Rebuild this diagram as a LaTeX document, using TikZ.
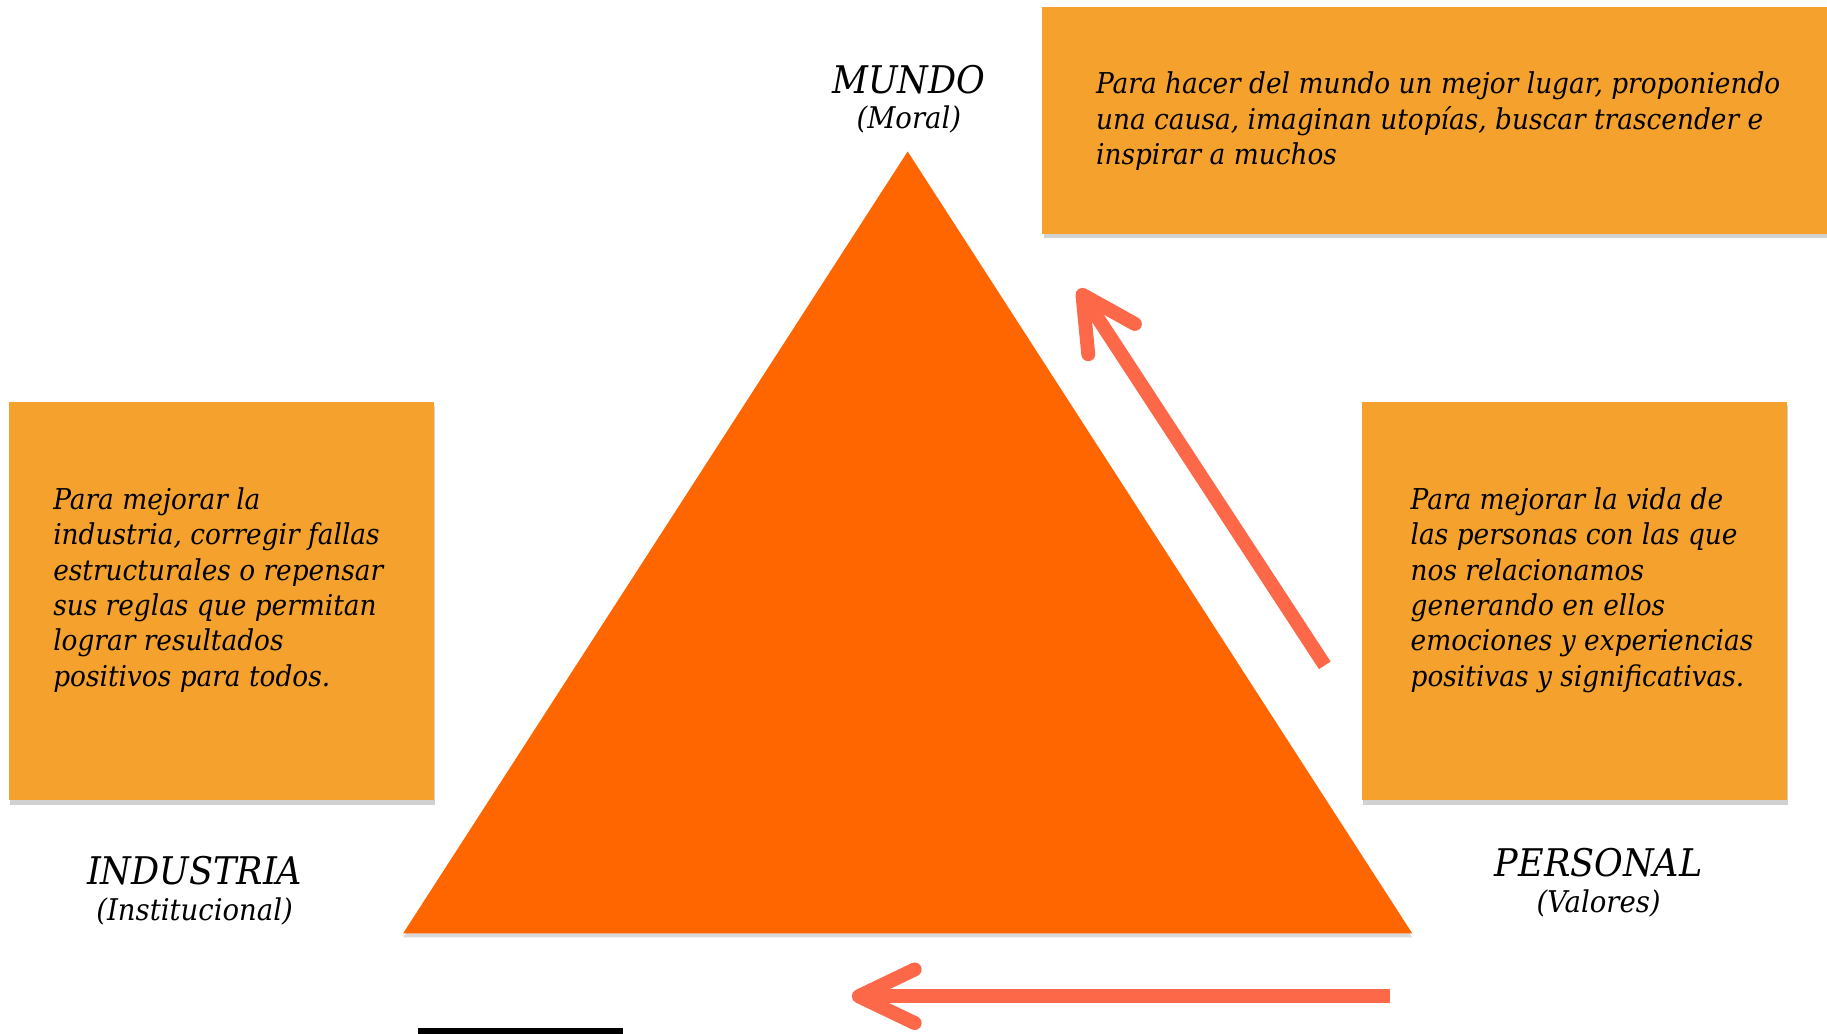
\documentclass[tikz,border=0pt]{standalone}
\usepackage{fontspec}
\setmainfont{DejaVu Serif}[FakeStretch=0.92]
\usetikzlibrary{shadows}
\definecolor{boxorange}{RGB}{244,161,46}
\definecolor{triorange}{RGB}{255,102,0}
\definecolor{arrowred}{RGB}{252,104,72}
\tikzset{
  infobox/.style={fill=boxorange, draw=none, inner sep=0pt, anchor=north west,
    drop shadow={shadow xshift=0.3pt, shadow yshift=-1.1pt, fill=black, opacity=0.18}},
  bodytext/.style={inner sep=0pt, anchor=north west, align=left,
    font=\fontsize{7}{8.62}\selectfont\itshape},
  biglabel/.style={inner sep=0pt, anchor=base, font=\fontsize{9.3}{11}\selectfont\itshape},
  smalllabel/.style={inner sep=0pt, anchor=base, font=\fontsize{7.3}{9}\selectfont\itshape},
  shaft/.style={draw=arrowred, line width=3.4pt, line cap=butt},
  barb/.style={draw=arrowred, line width=3.4pt, line cap=round, line join=round},
}
\begin{document}
\begin{tikzpicture}[x=0.01cm,y=-0.01cm]
\useasboundingbox (0,0) rectangle (1568,887);
% boxes
\node[infobox, minimum width=674*0.01cm, minimum height=195*0.01cm] (boxTop) at (894,5) {};
\node[infobox, minimum width=365*0.01cm, minimum height=342*0.01cm] (boxLeft) at (7,344) {};
\node[infobox, minimum width=365*0.01cm, minimum height=342*0.01cm] (boxRight) at (1168,344) {};
% triangle
\coordinate (apex) at (779,130);
\coordinate (bl) at (346,801);
\coordinate (br) at (1212,801);
\fill[triorange, drop shadow={shadow xshift=0pt, shadow yshift=-1pt, fill=black, opacity=0.15}] (apex) -- (bl) -- (br) -- cycle;
% box texts
\node[bodytext] (tTop) at (940,61) {Para hacer del mundo un mejor lugar, proponiendo\\una causa, imaginan utopías, buscar trascender e\\inspirar a muchos};
\node[bodytext] (tLeft) at (45,418) {Para mejorar la\\industria, corregir fallas\\estructurales o repensar\\sus reglas que permitan\\lograr resultados\\positivos para todos.};
\node[bodytext] (tRight) at (1210,418) {Para mejorar la vida de\\las personas con las que\\nos relacionamos\\generando en ellos\\emociones y experiencias\\positivas y significativas.};
% labels
\node[biglabel] (mundo) at (780,80) {MUNDO};
\node[smalllabel] (moral) at (780,110) {(Moral)};
\node[biglabel] (industria) at (167,759) {INDUSTRIA};
\node[smalllabel] (institucional) at (167,790) {(Institucional)};
\node[biglabel] (personal) at (1372,752) {PERSONAL};
\node[smalllabel] (valores) at (1372,783) {(Valores)};
% diagonal arrow
\coordinate (dTail) at (1137,571);
\coordinate (dTip) at (929,253);
\coordinate (dShaftEnd) at (935,262);
\coordinate (dArmA) at (934,304);
\coordinate (dArmB) at (974,278);
\draw[shaft] (dTail) -- (dShaftEnd);
\draw[barb] (dArmA) -- (dTip) -- (dArmB);
% bottom arrow
\coordinate (bTail) at (1193,855);
\coordinate (bTip) at (737,855);
\coordinate (bShaftEnd) at (745,855);
\coordinate (bArmA) at (785,832);
\coordinate (bArmB) at (785,878);
\draw[shaft] (bTail) -- (bShaftEnd);
\draw[barb] (bArmA) -- (bTip) -- (bArmB);
% black bar
\fill[black] (359,882) rectangle (535,887);
\end{tikzpicture}
\end{document}
